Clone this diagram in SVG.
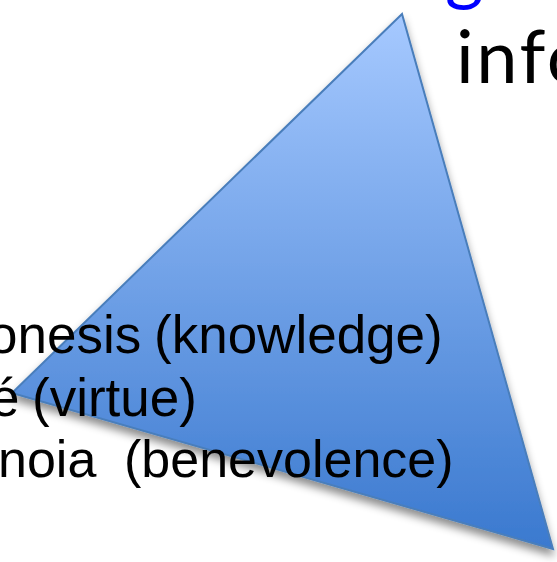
<svg xmlns="http://www.w3.org/2000/svg" width="557" height="562" viewBox="0 0 557 562">
  <style>
    .lbl { font-family: "Liberation Sans", Arial, sans-serif; font-size: 53px; fill: #000; }
    .lbl3 { font-size: 52px; }
    .big { font-family: Lato, "Open Sans", "Liberation Sans", sans-serif; font-size: 74px; }
  </style>
  <defs>
    <linearGradient id="triFill" x1="0" y1="0" x2="0" y2="1">
      <stop offset="0" stop-color="#a6c9ff"/>
      <stop offset="1" stop-color="#3a79cf"/>
    </linearGradient>
    <filter id="shadow" x="-10%" y="-10%" width="120%" height="125%">
      <feGaussianBlur in="SourceAlpha" stdDeviation="4"/>
      <feOffset dx="0" dy="6" result="b"/>
      <feFlood flood-color="#000" flood-opacity="0.45"/>
      <feComposite in2="b" operator="in"/>
      <feMerge>
        <feMergeNode/>
        <feMergeNode in="SourceGraphic"/>
      </feMerge>
    </filter>
  </defs>
  <rect width="557" height="562" fill="#fff"/>
  <g id="triangle">
    <polygon points="402,14 12,393 553,549" fill="url(#triFill)" stroke="#4a7ebb" stroke-width="2" stroke-linejoin="miter" filter="url(#shadow)"/>
  </g>
  <g id="title">
    <text class="big" x="445" y="-4" fill="#0000ff">g</text>
    <text class="big" x="456" y="83" fill="#000" letter-spacing="2.5">info</text>
  </g>
  <g id="labels">
    <text class="lbl" y="353"><tspan x="-12">onesis</tspan><tspan x="154">(knowledge)</tspan></text>
    <text class="lbl" y="416"><tspan x="-10">é</tspan><tspan x="32">(virtue)</tspan></text>
    <text class="lbl lbl3" y="477"><tspan x="-2">noia</tspan><tspan x="124">(benevolence)</tspan></text>
  </g>
</svg>
